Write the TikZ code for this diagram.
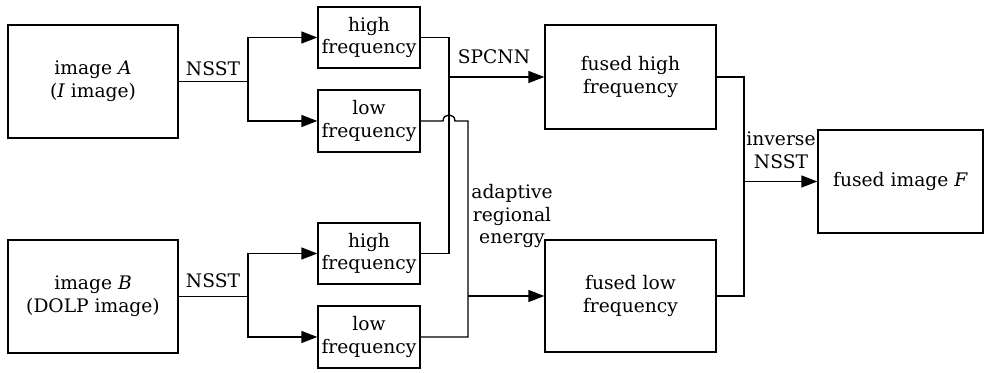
\documentclass[tikz,border=0pt]{standalone}
\usepackage{amsmath,amssymb}
\usepackage{fontspec}
\setmainfont{DejaVu Serif}
\usetikzlibrary{arrows.meta}

\begin{document}
\begin{tikzpicture}[x=0.75pt,y=0.75pt,yscale=-1,xscale=1,
  font=\fontsize{14}{17}\selectfont,
  blk/.style={draw,line width=1pt,align=center,inner sep=0pt},
  lnk/.style={line width=1pt},
  arr/.style={line width=1pt,-{Triangle[length=12pt,width=9pt]}}]
\useasboundingbox (0,0) rectangle (993,373);

% Source images
\node [blk,minimum width=127.5pt,minimum height=84.75pt] (imgA) at (93,81.5) {image \textit{A}\\(\textit{I} image)};
\node [blk,minimum width=127.5pt,minimum height=84.75pt] (imgB) at (93,296.5) {image \textit{B}\\(DOLP image)};

% Decomposed bands
\node [blk,minimum width=76.5pt,minimum height=45.75pt] (hfA) at (369,37.5) {high\\frequency};
\node [blk,minimum width=76.5pt,minimum height=46.5pt] (lfA) at (369,121) {low\\frequency};
\node [blk,minimum width=76.5pt,minimum height=45.75pt] (hfB) at (369,253.5) {high\\frequency};
\node [blk,minimum width=76.5pt,minimum height=46.5pt] (lfB) at (369,337) {low\\frequency};

% Fused bands
\node [blk,minimum width=128.25pt,minimum height=78pt] (fh) at (630.5,77) {fused high\\frequency};
\node [blk,minimum width=128.25pt,minimum height=84pt] (fl) at (630.5,296) {fused low\\frequency};

% Result
\node [blk,minimum width=123.75pt,minimum height=77.25pt] (fF) at (900.5,181.5) {fused image \textit{F}};

% Branch points
\coordinate (sA) at (248,81.5);
\coordinate (sB) at (248,296.5);
\coordinate (mh) at (449,77);
\coordinate (ml) at (468,296);
\coordinate (mi) at (744,181.5);

% NSST of image A
\draw [lnk] (imgA.east) -- (sA);
\draw [arr] (sA) |- (hfA.west);
\draw [arr] (sA) |- (lfA.west);
% NSST of image B
\draw [lnk] (imgB.east) -- (sB);
\draw [arr] (sB) |- (hfB.west);
\draw [arr] (sB) |- (lfB.west);

% high frequency fusion
\draw [lnk] (hfA.east) -| (mh) |- (hfB.east);
\draw [arr] (mh) -- (fh.west);
% low frequency fusion, jumping over the high line
\draw [lnk] (lfA.east) -- (443,121) .. controls (443,113) and (455,113) .. (455,121) -| (ml) |- (lfB.east);
\draw [arr] (ml) -- (fl.west);

% inverse transform
\draw [lnk] (fh.east) -| (mi) |- (fl.east);
\draw [arr] (mi) -- (fF.west);

% Text Node
\node (tA) at (213,69) {NSST};
% Text Node
\node (tB) at (213,281) {NSST};
% Text Node
\node (tsp) at (494,57) {SPCNN};
% Text Node
\node [align=center] (tare) at (512,216) {adaptive\\regional\\energy};
% Text Node
\node [align=center] (tinv) at (781,150) {inverse\\NSST};

\end{tikzpicture}
\end{document}
